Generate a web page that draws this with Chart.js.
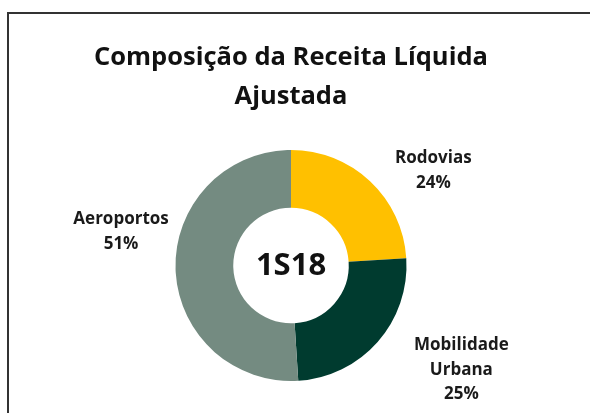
<!DOCTYPE html>
<html>
<head>
<meta charset="utf-8">
<script src="https://cdn.jsdelivr.net/npm/chart.js@4.4.1/dist/chart.umd.min.js"></script>
<style>
  html, body { margin: 0; padding: 0; background: #fff; }
  #wrap { width: 590px; height: 413px; position: relative; }
</style>
</head>
<body>
<div id="wrap"><canvas id="donut" width="590" height="413"></canvas></div>
<script>
const categories = ["Rodovias", "Mobilidade Urbana", "Aeroportos"];
const shares = [24, 25, 51];
const labelLines = [["Rodovias"], ["Mobilidade", "Urbana"], ["Aeroportos"]];
const centerText = "1S18";
const titleLines = ["Composição da Receita Líquida", "Ajustada"];

const sliceColors = ["#FFC000", "#003B2F", "#748B81"];
// label placement: distance as multiple of outer radius, angle shift in degrees
const labelDist = [1.48, 1.73, 1.5];
const labelShift = [13.2, -9.9, 13];

Chart.defaults.font.family = "'Open Sans', sans-serif";

const frame = {
  id: "frame",
  beforeDraw(chart) {
    const ctx = chart.ctx;
    ctx.save();
    ctx.fillStyle = "#fff";
    ctx.fillRect(0, 0, chart.width, chart.height);
    ctx.strokeStyle = "#333";
    ctx.lineWidth = 2;
    ctx.strokeRect(8, 13, chart.width + 20, chart.height + 20);
    ctx.restore();
  },
};

const sliceLabels = {
  id: "sliceLabels",
  afterDraw(chart) {
    const ctx = chart.ctx;
    const meta = chart.getDatasetMeta(0);
    ctx.save();
    ctx.textAlign = "center";
    ctx.textBaseline = "middle";
    ctx.fillStyle = "#1a1a1a";

    meta.data.forEach((arc, i) => {
      const p = arc.getProps(["x", "y", "startAngle", "endAngle", "outerRadius"], true);
      const a = (p.startAngle + p.endAngle) / 2 + (labelShift[i] * Math.PI) / 180;
      const r = p.outerRadius * labelDist[i];
      const cx = p.x + Math.cos(a) * r;
      const cy = p.y + Math.sin(a) * r;
      const lines = labelLines[i].concat([shares[i] + "%"]);
      const lh = 24.5;
      ctx.font = "bold 17px 'Open Sans'";
      lines.forEach((t, j) => {
        ctx.fillText(t, cx, cy + (j - (lines.length - 1) / 2) * lh);
      });
    });

    const c = meta.data[0];
    ctx.font = "bold 31px 'Open Sans'";
    ctx.fillStyle = "#111";
    ctx.fillText(centerText, c.x, c.y + 1);
    ctx.restore();
  },
};

new Chart(document.getElementById("donut"), {
  type: "doughnut",
  data: {
    labels: categories,
    datasets: [
      {
        data: shares,
        backgroundColor: sliceColors,
        borderWidth: 0,
        hoverOffset: 0,
      },
    ],
  },
  options: {
    responsive: false,
    animation: false,
    cutout: "50%",
    layout: { padding: { top: 20, bottom: 32, left: 0, right: 8 } },
    plugins: {
      legend: { display: false },
      tooltip: { enabled: false },
      title: {
        display: true,
        text: titleLines,
        color: "#111",
        font: { size: 25.5, weight: "bold", lineHeight: 1.5 },
        padding: { top: 19, bottom: 34.5 },
      },
    },
  },
  plugins: [frame, sliceLabels],
});
</script>
</body>
</html>
